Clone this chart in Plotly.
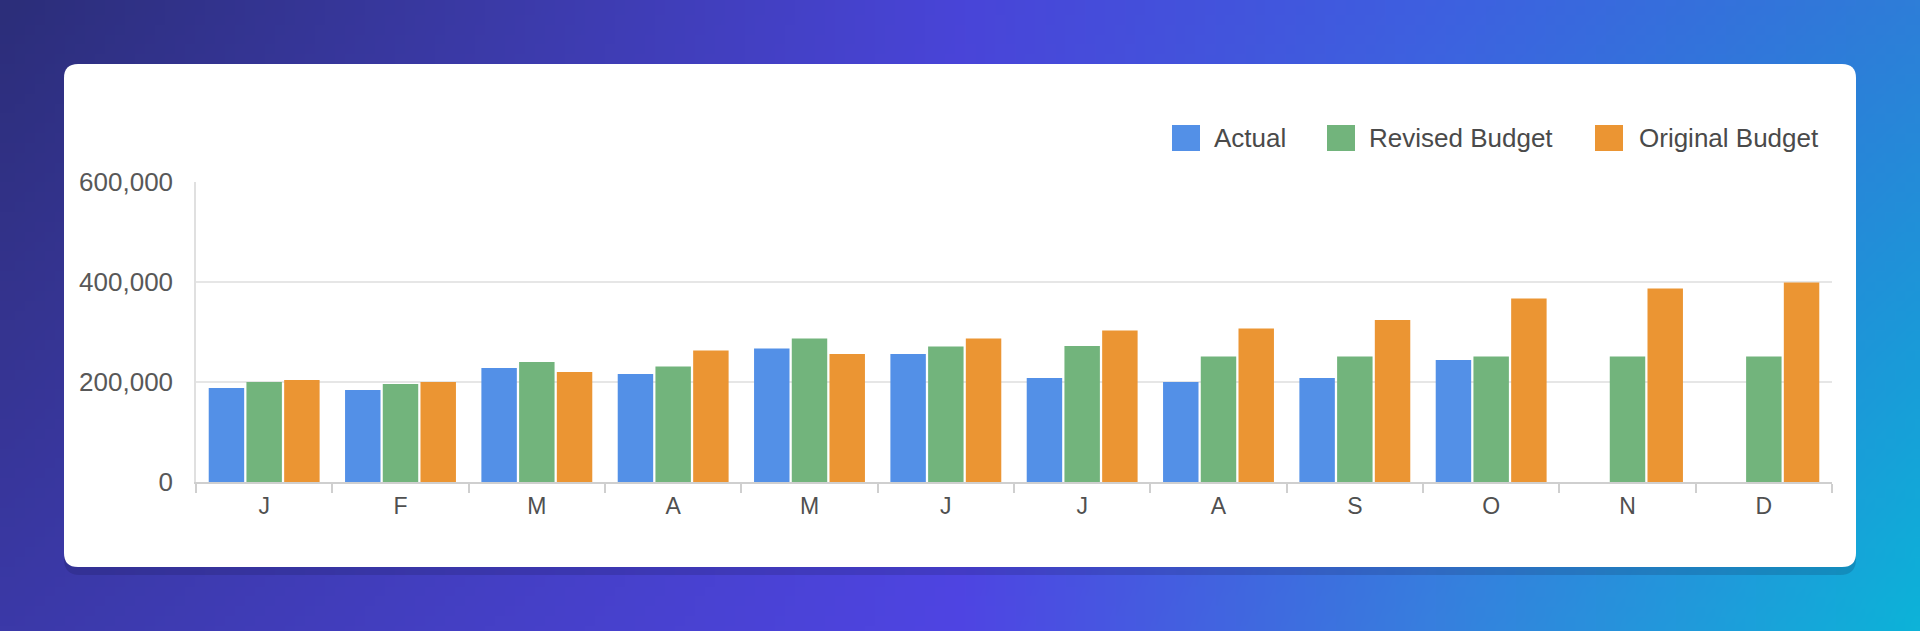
import base64
import struct
import zlib

import numpy as np
import plotly.graph_objects as go

months = ["Jan", "Feb", "Mar", "Apr", "May", "Jun", "Jul", "Aug", "Sep", "Oct", "Nov", "Dec"]
month_letters = ["J", "F", "M", "A", "M", "J", "J", "A", "S", "O", "N", "D"]

actual = [188000, 184000, 228000, 216000, 267000, 256000, 208000, 200000, 208000, 244000, None, None]
revised_budget = [200000, 196000, 240000, 231000, 287000, 271000, 272000, 251000, 251000, 251000, 251000, 251000]
original_budget = [204000, 200000, 220000, 263000, 256000, 287000, 303000, 307000, 324000, 367000, 387000, 399000]

series_names = ["Actual", "Revised Budget", "Original Budget"]
series_colors = ["#5390e7", "#72b47c", "#eb9533"]
y_ticks = [0, 200000, 400000, 600000]

W, H = 1920, 631
L, R, T, B = 196, 1832, 182, 482   # plot area in pixels


def fx(px):
    return (px - L) / (R - L)


def fy(py):
    return (B - py) / (B - T)


def rounded_rect(x0, y0, x1, y1, r):
    pts = [
        f"M{fx(x0 + r)},{fy(y0)}",
        f"L{fx(x1 - r)},{fy(y0)}",
        f"Q{fx(x1)},{fy(y0)} {fx(x1)},{fy(y0 + r)}",
        f"L{fx(x1)},{fy(y1 - r)}",
        f"Q{fx(x1)},{fy(y1)} {fx(x1 - r)},{fy(y1)}",
        f"L{fx(x0 + r)},{fy(y1)}",
        f"Q{fx(x0)},{fy(y1)} {fx(x0)},{fy(y1 - r)}",
        f"L{fx(x0)},{fy(y0 + r)}",
        f"Q{fx(x0)},{fy(y0)} {fx(x0 + r)},{fy(y0)}",
        "Z",
    ]
    return " ".join(pts)


def hex_rgb(h):
    h = h.lstrip("#")
    return [int(h[i:i + 2], 16) for i in (0, 2, 4)]


# background gradient as a small png, stretched over the page
grid_top = ["#2c2e7a", "#3b3aa6", "#4945d8", "#3e60e0", "#2e7ed8"]
grid_mid = ["#35348f", "#3f3cb6", "#4c45dc", "#3a72de", "#1c98d8"]
grid_bot = ["#3b39a8", "#4540c6", "#4f45e3", "#3780de", "#0db3d8"]


def gradient_png(w=192, h=64):
    rows = np.array([[hex_rgb(c) for c in g] for g in (grid_top, grid_mid, grid_bot)], float)
    xs = np.linspace(0, 4, w)
    ys = np.linspace(0, 2, h)
    img = np.zeros((h, w, 3))
    for ch in range(3):
        per_row = np.array([np.interp(xs, np.arange(5), rows[i, :, ch]) for i in range(3)])
        for j in range(w):
            img[:, j, ch] = np.interp(ys, np.arange(3), per_row[:, j])
    img = img.clip(0, 255).astype(np.uint8)
    raw = b"".join(b"\x00" + img[i].tobytes() for i in range(h))

    def chunk(tag, data):
        return struct.pack(">I", len(data)) + tag + data + struct.pack(">I", zlib.crc32(tag + data) & 0xffffffff)

    png = b"\x89PNG\r\n\x1a\n" + chunk(b"IHDR", struct.pack(">IIBBBBB", w, h, 8, 2, 0, 0, 0))
    png += chunk(b"IDAT", zlib.compress(raw, 9)) + chunk(b"IEND", b"")
    return "data:image/png;base64," + base64.b64encode(png).decode()


fig = go.Figure()
for name, vals, col in zip(series_names, [actual, revised_budget, original_budget], series_colors):
    fig.add_trace(go.Bar(x=months, y=vals, name=name, marker_color=col,
                         marker_line_width=0, showlegend=False))

shapes = [
    # card shadow + card
    dict(type="path", path=rounded_rect(64, 70, 1856, 575, 16), xref="paper", yref="paper",
         fillcolor="rgba(10,10,50,0.16)", line_width=0, layer="below"),
    dict(type="path", path=rounded_rect(64, 64, 1856, 567, 14), xref="paper", yref="paper",
         fillcolor="white", line_width=0, layer="below"),
]

# legend drawn by hand so the swatches match the size
legend_sw = [1172, 1327, 1595]
legend_tx = [1212, 1367, 1637]
annotations = []
for name, col, sx, tx in zip(series_names, series_colors, legend_sw, legend_tx):
    shapes.append(dict(type="rect", xref="paper", yref="paper",
                       x0=fx(sx), x1=fx(sx + 28), y0=fy(151), y1=fy(125),
                       fillcolor=col, line_width=0))
    annotations.append(dict(text=name, xref="paper", yref="paper", x=fx(tx), y=fy(138),
                            xanchor="left", yanchor="middle", showarrow=False,
                            font=dict(size=26, color="#4a4a4a")))

fig.update_layout(
    width=W, height=H,
    margin=dict(l=L, r=W - R, t=T, b=H - B),
    paper_bgcolor="#3a3aa8",
    plot_bgcolor="rgba(0,0,0,0)",
    font=dict(family="Liberation Sans, Arial, sans-serif", color="#4a4a4a"),
    barmode="group",
    bargap=0.17,
    bargroupgap=0.06,
    shapes=shapes,
    annotations=annotations,
    images=[dict(source=gradient_png(), xref="paper", yref="paper",
                 x=fx(0), y=fy(0), sizex=W / (R - L), sizey=H / (B - T),
                 xanchor="left", yanchor="top", sizing="stretch", layer="below")],
    xaxis=dict(
        type="category",
        tickmode="array", tickvals=months, ticktext=month_letters,
        tickson="boundaries", ticks="outside", ticklen=9, tickwidth=1.5, tickcolor="#cfcfcf",
        showline=True, linecolor="#cfcfcf", linewidth=1.5,
        showgrid=False, tickfont=dict(size=23, color="#505050"),
        ticklabelstandoff=3,
        range=[-0.5, 11.5],
    ),
    yaxis=dict(
        range=[0, 600000], tickvals=y_ticks, tickformat=",",
        showgrid=True, gridcolor="#e6e6e6", gridwidth=1.5,
        zeroline=False, showline=True, linecolor="#e0e0e0", linewidth=1.5,
        ticks="", ticklabelstandoff=16,
        tickfont=dict(size=26, color="#585858"),
    ),
)

fig.write_html("out.html", config={"displayModeBar": False},
               post_script="document.body.style.margin='0';")
